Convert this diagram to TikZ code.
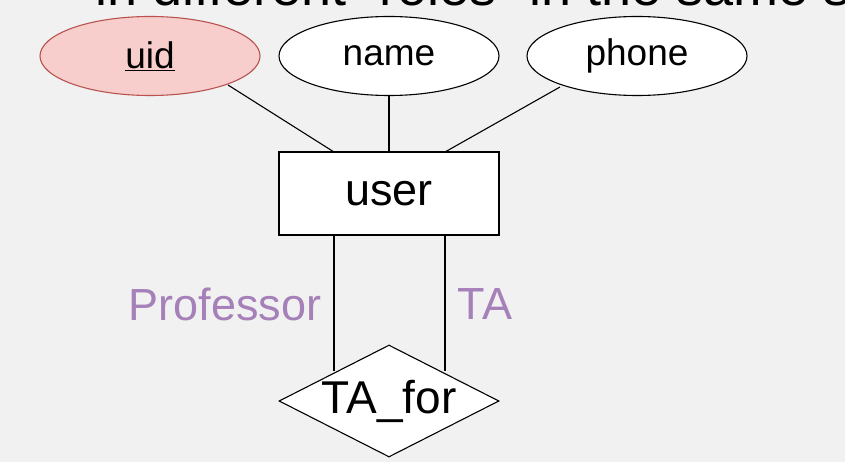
\documentclass[tikz,border=0pt]{standalone}
\usepackage{fontspec}
\setmainfont{Liberation Sans}
\usetikzlibrary{shapes.geometric}
\definecolor{bg}{HTML}{F1F1F1}
\definecolor{keyfill}{HTML}{F8CECC}
\definecolor{keydraw}{HTML}{B85450}
\definecolor{role}{HTML}{A680B8}
\begin{document}
\begin{tikzpicture}[x=1pt,y=-1pt,line width=1.1pt,
  attr/.style={ellipse,draw,fill=white,minimum width=220pt,minimum height=79pt,inner sep=0pt,font=\fontsize{37}{40}\selectfont},
  ent/.style={rectangle,draw,fill=white,minimum width=220pt,minimum height=83pt,font=\fontsize{45}{48}\selectfont},
  rel/.style={diamond,draw,fill=white,minimum width=220pt,minimum height=112pt,aspect=2,inner sep=0pt,font=\fontsize{46}{50}\selectfont},
  lbl/.style={text=role,font=\fontsize{45}{48}\selectfont}]
\fill[bg] (0,0) rectangle (845,462);
\useasboundingbox (0,0) rectangle (845,462);
\begin{scope}
\clip (0,0) rectangle (845,462);
\node[anchor=base west,font=\fontsize{54}{58}\selectfont,inner sep=0pt] (title) at (95,6) {in different “roles” in the same set};
\end{scope}
\node[attr,fill=keyfill,draw=keydraw] (uid) at (150,56) {\underline{uid}};
\node[attr] (name) at (389,56) {name};
\node[attr] (phone) at (637,56) {phone};
\node[ent] (user) at (389,193.5) {user};
\node[rel] (ta) at (389,401) {TA\_for};
\coordinate (u1) at (334,152);
\coordinate (u2) at (445,152);
\coordinate (a1) at (228,85);
\coordinate (a3) at (560,87);
\draw (a1) -- (u1);
\draw (name) -- (user);
\draw (a3) -- (u2);
\draw (user.south -| 334,0) -- (334,371);
\draw (user.south -| 445,0) -- (445,371);
\node[lbl] (prof) at (225,304) {Professor};
\node[lbl] (tal) at (485,304) {TA};
\end{tikzpicture}
\end{document}
